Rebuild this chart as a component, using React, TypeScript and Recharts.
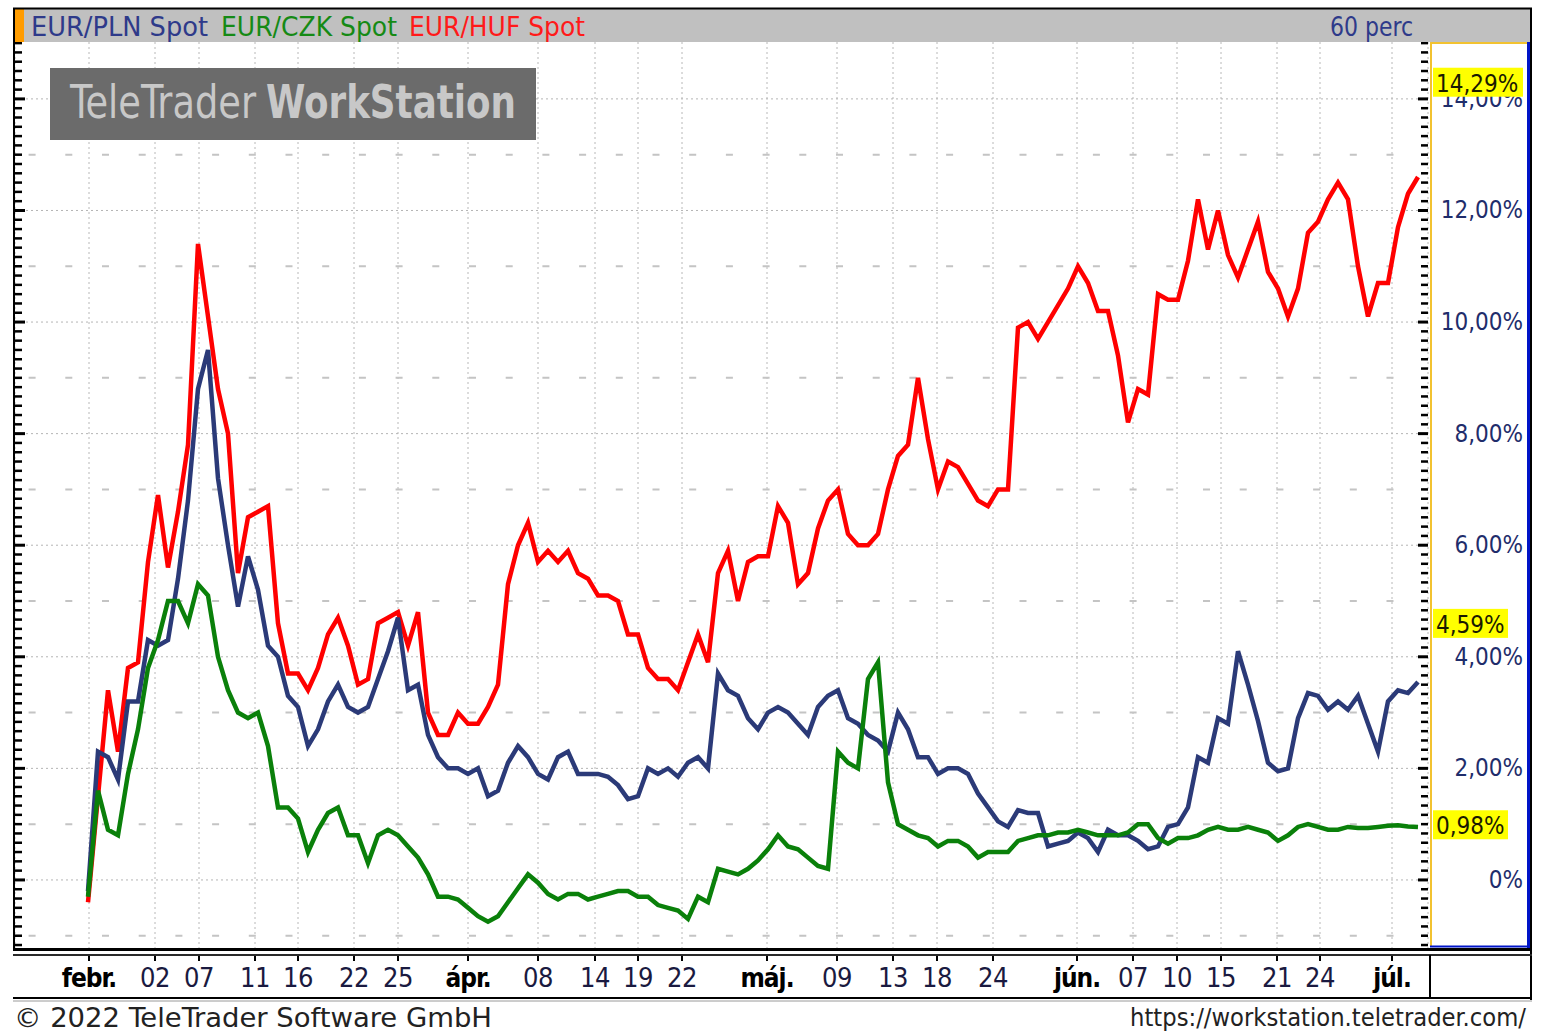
import React from "react";
import { LineChart, Line, XAxis, YAxis, CartesianGrid, ReferenceLine } from "recharts";

const W = 1550;
const H = 1034;
const PLOT = { left: 15, top: 42, right: 1428, bottom: 948 };
const FONT = "'DejaVu Sans Condensed', 'DejaVu Sans', sans-serif";
const NARROW = "'Liberation Sans Narrow', 'DejaVu Sans Condensed', sans-serif";

// % change since start, one sample per ~0.7 trading day (60 perc bars thinned out)
const hufSpot = [
  -0.4, 1.5, 3.4, 2.3, 3.8, 3.9, 5.7, 6.9, 5.6, 6.6, 7.8, 11.4, 10.1, 8.8, 8.0, 5.5, 6.5, 6.6, 6.7, 4.6,
  3.7, 3.7, 3.4, 3.8, 4.4, 4.7, 4.2, 3.5, 3.6, 4.6, 4.7, 4.8, 4.2, 4.8, 3.0, 2.6, 2.6, 3.0, 2.8, 2.8,
  3.1, 3.5, 5.3, 6.0, 6.4, 5.7, 5.9, 5.7, 5.9, 5.5, 5.4, 5.1, 5.1, 5.0, 4.4, 4.4, 3.8, 3.6, 3.6, 3.4,
  3.9, 4.4, 3.9, 5.5, 5.9, 5.0, 5.7, 5.8, 5.8, 6.7, 6.4, 5.3, 5.5, 6.3, 6.8, 7.0, 6.2, 6.0, 6.0, 6.2,
  7.0, 7.6, 7.8, 9.0, 7.9, 7.0, 7.5, 7.4, 7.1, 6.8, 6.7, 7.0, 7.0, 9.9, 10.0, 9.7, 10.0, 10.3, 10.6, 11.0,
  10.7, 10.2, 10.2, 9.4, 8.2, 8.8, 8.7, 10.5, 10.4, 10.4, 11.1, 12.2, 11.3, 12.0, 11.2, 10.8, 11.3, 11.8, 10.9, 10.6,
  10.1, 10.6, 11.6, 11.8, 12.2, 12.5, 12.2, 11.0, 10.1, 10.7, 10.7, 11.7, 12.3, 12.6,
];
const plnSpot = [
  -0.2, 2.3, 2.2, 1.8, 3.2, 3.2, 4.3, 4.2, 4.3, 5.4, 6.8, 8.8, 9.5, 7.2, 6.0, 4.9, 5.8, 5.2, 4.2, 4.0,
  3.3, 3.1, 2.4, 2.7, 3.2, 3.5, 3.1, 3.0, 3.1, 3.6, 4.1, 4.7, 3.4, 3.5, 2.6, 2.2, 2.0, 2.0, 1.9, 2.0,
  1.5, 1.6, 2.1, 2.4, 2.2, 1.9, 1.8, 2.2, 2.3, 1.9, 1.9, 1.9, 1.85, 1.7, 1.45, 1.5, 2.0, 1.9, 2.0, 1.85,
  2.1, 2.2, 2.0, 3.7, 3.4, 3.3, 2.9, 2.7, 3.0, 3.1, 3.0, 2.8, 2.6, 3.1, 3.3, 3.4, 2.9, 2.8, 2.6, 2.5,
  2.3, 3.0, 2.7, 2.2, 2.2, 1.9, 2.0, 2.0, 1.9, 1.55, 1.3, 1.05, 0.95, 1.25, 1.2, 1.2, 0.6, 0.65, 0.7, 0.85,
  0.75, 0.5, 0.9, 0.8, 0.8, 0.7, 0.55, 0.6, 0.95, 1.0, 1.3, 2.2, 2.1, 2.9, 2.8, 4.1, 3.5, 2.85, 2.1, 1.95,
  2.0, 2.9, 3.35, 3.3, 3.05, 3.2, 3.05, 3.3, 2.8, 2.3, 3.2, 3.4, 3.35, 3.55,
];
const czkSpot = [
  -0.3, 1.6, 0.9, 0.8, 1.9, 2.7, 3.8, 4.3, 5.0, 5.0, 4.6, 5.3, 5.1, 4.0, 3.4, 3.0, 2.9, 3.0, 2.4, 1.3,
  1.3, 1.1, 0.5, 0.9, 1.2, 1.3, 0.8, 0.8, 0.3, 0.8, 0.9, 0.8, 0.6, 0.4, 0.1, -0.3, -0.3, -0.35, -0.5, -0.65,
  -0.75, -0.65, -0.4, -0.15, 0.1, -0.05, -0.25, -0.35, -0.25, -0.25, -0.35, -0.3, -0.25, -0.2, -0.2, -0.3, -0.3, -0.45, -0.5, -0.55,
  -0.7, -0.3, -0.4, 0.2, 0.15, 0.1, 0.2, 0.35, 0.55, 0.8, 0.6, 0.55, 0.4, 0.25, 0.2, 2.3, 2.1, 2.0, 3.6, 3.9,
  1.75, 1.0, 0.9, 0.8, 0.75, 0.6, 0.7, 0.7, 0.6, 0.4, 0.5, 0.5, 0.5, 0.7, 0.75, 0.8, 0.8, 0.85, 0.85, 0.9,
  0.85, 0.8, 0.8, 0.8, 0.85, 1.0, 1.0, 0.75, 0.65, 0.75, 0.75, 0.8, 0.9, 0.95, 0.9, 0.9, 0.95, 0.9, 0.85, 0.7,
  0.8, 0.95, 1.0, 0.95, 0.9, 0.9, 0.95, 0.93, 0.93, 0.95, 0.97, 0.98, 0.96, 0.95,
];

// date ticks, in sample-index units
const xTicks = [0.1, 6.7, 11.1, 16.7, 21.0, 26.6, 31.0, 38.0, 45.0, 50.7, 55.0, 59.4, 67.9, 74.9, 80.5, 84.9, 90.5, 98.9, 104.5, 108.9, 113.3, 118.9, 123.2, 130.4];
const xTickLabels = ["febr.", "02", "07", "11", "16", "22", "25", "ápr.", "08", "14", "19", "22", "máj.", "09", "13", "18", "24", "jún.", "07", "10", "15", "21", "24", "júl."];
const monthLabels = ["febr.", "ápr.", "máj.", "jún.", "júl."];

const gridLevels = [0, 2, 4, 6, 8, 10, 12, 14];
const halfLevels = [-1, 1, 3, 5, 7, 9, 11, 13];
const lastValues = [14.29, 4.59, 0.98];
const lastValueLabels = ["14,29%", "4,59%", "0,98%"];

const yDomain = [-1.22, 15.02];
const xDomain = [-7.3, 134];

const data = hufSpot.map((v, i) => ({ i, huf: v, pln: plnSpot[i], czk: czkSpot[i] }));

const minorTicks: number[] = [];
for (let k = -7; k <= 90; k++) minorTicks.push(k / 6);

const isMajor = (v: number) => Math.abs(v - Math.round(v)) < 1e-6 && Math.round(v) % 2 === 0;
const fmtPct = (v: number) => (Math.round(v) === 0 ? "0%" : v.toFixed(2).replace(".", ",") + "%");
// badge position on the value axis (same mapping as the chart's y scale)
const yOf = (v: number) => PLOT.top + ((yDomain[1] - v) / (yDomain[1] - yDomain[0])) * (PLOT.bottom - PLOT.top);

function RightTick(props: any) {
  const { y, payload } = props;
  const v = payload.value;
  const major = isMajor(v);
  return (
    <g>
      <line x1={PLOT.right - (major ? 10 : 7)} x2={PLOT.right} y1={y} y2={y} stroke="#000" strokeWidth={major ? 3 : 2.5} />
      {major && v > -0.5 && (
        <text x={1523} y={y} dy={8} textAnchor="end" fontFamily={FONT} fontSize={24} fill="#1f2d6b">
          {fmtPct(v)}
        </text>
      )}
    </g>
  );
}

function LeftTick(props: any) {
  const { y, payload } = props;
  const major = isMajor(payload.value);
  return <line x1={PLOT.left} x2={PLOT.left + (major ? 10 : 7)} y1={y} y2={y} stroke="#000" strokeWidth={major ? 3 : 2.5} />;
}

function DateTick(props: any) {
  const { x, payload } = props;
  const label = xTickLabels[xTicks.indexOf(payload.value)];
  const bold = monthLabels.includes(label);
  return (
    <g>
      <line x1={x} x2={x} y1={955} y2={961} stroke="#000" strokeWidth={2} />
      <text x={x} y={987} textAnchor="middle" fontFamily={FONT} fontSize={bold ? 26 : 27} letterSpacing={bold ? -1 : -0.5} fontWeight={bold ? 700 : 400} fill={bold ? "#000" : "#1a1a40"}>
        {label}
      </text>
    </g>
  );
}

function Frame() {
  return (
    <svg width={W} height={H} style={{ position: "absolute", left: 0, top: 0, pointerEvents: "none" }}>
      <rect x={15} y={9} width={1516} height={33} fill="#c0c0c0" />
      <rect x={15} y={9} width={9} height={33} fill="#ff9c00" />
      <line x1={13} x2={1532} y1={8.5} y2={8.5} stroke="#000" strokeWidth={2} />
      <line x1={14} x2={14} y1={8} y2={950} stroke="#000" strokeWidth={2} />
      <line x1={1531} x2={1531} y1={8} y2={1000} stroke="#000" strokeWidth={2} />
      <text x={31} y={36} fontFamily={NARROW} fontSize={27} fill="#2e3a8a" textLength={177} lengthAdjust="spacingAndGlyphs">EUR/PLN Spot</text>
      <text x={221} y={36} fontFamily={NARROW} fontSize={27} fill="#158a15" textLength={176} lengthAdjust="spacingAndGlyphs">EUR/CZK Spot</text>
      <text x={409} y={36} fontFamily={NARROW} fontSize={27} fill="#ff1a1a" textLength={176} lengthAdjust="spacingAndGlyphs">EUR/HUF Spot</text>
      <text x={1330} y={36} fontFamily={NARROW} fontSize={27} fill="#2e3a8a" textLength={83} lengthAdjust="spacingAndGlyphs">60 perc</text>

      <rect x={50} y={68} width={486} height={72} fill="#6b6b6b" />
      <text x={70} y={118} fontFamily={FONT} fontSize={46} fill="#c8c8c8" textLength={186} lengthAdjust="spacingAndGlyphs">TeleTrader</text>
      <text x={266} y={118} fontFamily={FONT} fontSize={46} fontWeight={700} fill="#c8c8c8" textLength={250} lengthAdjust="spacingAndGlyphs">WorkStation</text>

      <line x1={1431} x2={1431} y1={42} y2={947} stroke="#f2c230" strokeWidth={2} />
      <line x1={1430} x2={1528} y1={43} y2={43} stroke="#f2c230" strokeWidth={2} />
      <line x1={1528.5} x2={1528.5} y1={42} y2={948} stroke="#0014c8" strokeWidth={3} />
      <line x1={1430} x2={1530} y1={946.5} y2={946.5} stroke="#0014c8" strokeWidth={2} />

      {lastValues.map((v, k) => {
        const y = yOf(v);
        const text = lastValueLabels[k];
        return (
          <g key={text}>
            <rect x={1433} y={y - 15} width={text.length * 15} height={29} fill="#ffff00" />
            <text x={1436} y={y} dy={9} fontFamily={FONT} fontSize={24} fill="#1a1a00">{text}</text>
          </g>
        );
      })}

      <line x1={13} x2={1532} y1={949.5} y2={949.5} stroke="#000" strokeWidth={3} />
      <line x1={13} x2={1532} y1={955} y2={955} stroke="#2a2a2a" strokeWidth={2} />
      <line x1={13} x2={1532} y1={998} y2={998} stroke="#000" strokeWidth={2} />
      <line x1={13} x2={1532} y1={1001} y2={1001} stroke="#9a9a9a" strokeWidth={1} />
      <line x1={1430} x2={1430} y1={955} y2={999} stroke="#000" strokeWidth={2} />

      <text x={14} y={1027} fontFamily={FONT} fontSize={27} fill="#222" textLength={478} lengthAdjust="spacingAndGlyphs">© 2022 TeleTrader Software GmbH</text>
      <text x={1130} y={1026} fontFamily={NARROW} fontSize={25} fill="#222" textLength={396} lengthAdjust="spacingAndGlyphs">https://workstation.teletrader.com/</text>
    </svg>
  );
}

export default function App() {
  return (
    <div style={{ position: "absolute", left: 0, top: 0, width: W, height: H, background: "#fff", overflow: "hidden" }}>
      <LineChart width={W} height={H} data={data} margin={{ top: PLOT.top, right: 20, bottom: 20, left: 5 }}>
        <XAxis
          dataKey="i"
          type="number"
          domain={xDomain}
          allowDataOverflow
          ticks={xTicks}
          interval={0}
          height={H - PLOT.bottom - 20}
          axisLine={false}
          tickLine={false}
          tick={(p: any) => <DateTick {...p} />}
        />
        <YAxis yAxisId="l" orientation="left" type="number" domain={yDomain} allowDataOverflow ticks={minorTicks} interval={0} width={PLOT.left - 5} axisLine={false} tickLine={false} tick={(p: any) => <LeftTick {...p} />} />
        <YAxis yAxisId="r" orientation="right" type="number" domain={yDomain} allowDataOverflow ticks={minorTicks} interval={0} width={W - PLOT.right - 20} axisLine={false} tickLine={false} tick={(p: any) => <RightTick {...p} />} />
        <CartesianGrid yAxisId="r" horizontal={false} stroke="#b8b8b8" strokeDasharray="2 3" />
        {gridLevels.map((v) => (
          <ReferenceLine key={"g" + v} yAxisId="r" y={v} stroke="#b4b4b4" strokeDasharray="2 3" />
        ))}
        {halfLevels.map((v) => (
          <ReferenceLine key={"h" + v} yAxisId="r" y={v} stroke="#c4c4c4" strokeWidth={2} strokeDasharray="7 29.7" strokeDashoffset={2.2} />
        ))}
        <Line yAxisId="r" dataKey="huf" stroke="#ff0000" strokeWidth={4.5} dot={false} type="linear" isAnimationActive={false} />
        <Line yAxisId="r" dataKey="pln" stroke="#2b3a78" strokeWidth={4.5} dot={false} type="linear" isAnimationActive={false} />
        <Line yAxisId="r" dataKey="czk" stroke="#0a800a" strokeWidth={4.5} dot={false} type="linear" isAnimationActive={false} />
      </LineChart>
      <Frame />
    </div>
  );
}
